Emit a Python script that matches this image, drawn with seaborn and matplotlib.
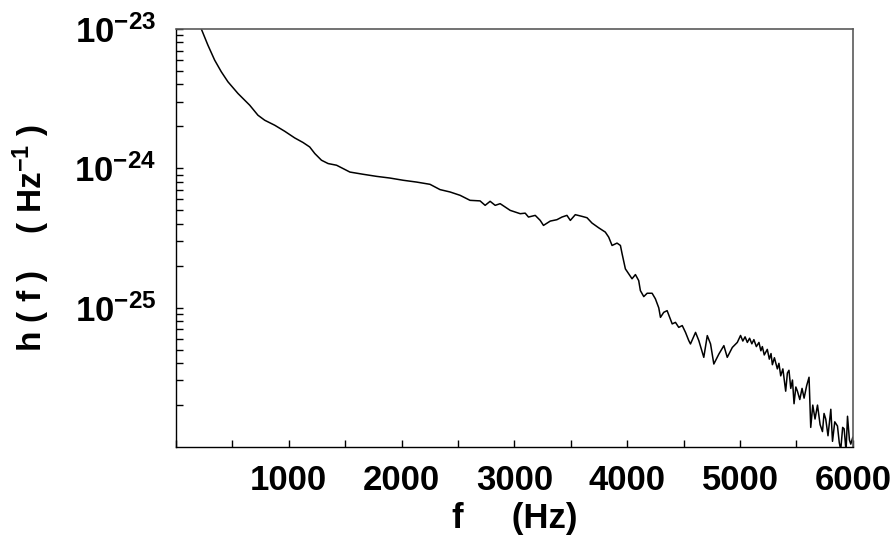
import matplotlib

matplotlib.use("Agg")

import matplotlib.pyplot as plt
import matplotlib.ticker as mticker
import numpy as np
import pandas as pd
import seaborn as sns

# frequency in Hz and log10 of h(f)
freq = [
    200, 283, 343, 402, 461, 550, 654, 727, 787, 876, 964, 1053, 1127, 1186,
    1231, 1290, 1349, 1424, 1542, 1660, 1779, 1897, 2015, 2134, 2252, 2341,
    2430, 2519, 2607, 2696, 2741, 2785, 2830, 2874, 2963, 3052, 3096, 3125,
    3185, 3229, 3258, 3318, 3377, 3422, 3466, 3496, 3540, 3599, 3644, 3688,
    3747, 3806, 3836, 3866, 3910, 3940, 3955, 3984, 4013, 4043, 4073, 4102,
    4117, 4147, 4177, 4221, 4250, 4280, 4295, 4324, 4354, 4399, 4428, 4457,
    4488, 4517, 4546, 4561, 4606, 4635, 4679, 4710, 4739, 4768, 4813, 4857,
    4887, 4932, 4976,
    5005, 5025, 5045, 5065, 5085, 5105, 5123, 5145, 5168, 5185, 5198, 5215,
    5242, 5260, 5275, 5287, 5305, 5331, 5345, 5361, 5380, 5405, 5420, 5434,
    5450, 5465, 5479, 5495, 5509, 5530, 5550, 5568, 5591, 5612, 5627, 5645,
    5665, 5687, 5710, 5731, 5745, 5760, 5780, 5805, 5820, 5840, 5864, 5880,
    5893, 5910, 5923, 5940, 5953, 5970, 5982, 6000,
]
log_h = [
    -22.95, -23.115, -23.223, -23.307, -23.379, -23.463, -23.547, -23.619,
    -23.655, -23.691, -23.734, -23.782, -23.815, -23.847, -23.894, -23.942,
    -23.966, -23.978, -24.027, -24.043, -24.058, -24.070, -24.086, -24.099,
    -24.115, -24.153, -24.170, -24.194, -24.230, -24.234, -24.266, -24.237,
    -24.266, -24.254, -24.302, -24.326, -24.322, -24.350, -24.338, -24.374,
    -24.410, -24.379, -24.369, -24.350, -24.338, -24.374, -24.333, -24.345,
    -24.355, -24.393, -24.427, -24.458, -24.494, -24.554, -24.537, -24.554,
    -24.614, -24.722, -24.757, -24.793, -24.763, -24.806, -24.878, -24.921,
    -24.897, -24.897, -24.937, -25.002, -25.070, -25.034, -25.022, -25.117,
    -25.106, -25.142, -25.129, -25.178, -25.237, -25.261, -25.178, -25.237,
    -25.357, -25.201, -25.261, -25.405, -25.333, -25.273, -25.357, -25.286,
    -25.250,
    -25.20, -25.24, -25.21, -25.25, -25.22, -25.26, -25.23, -25.28, -25.25,
    -25.31, -25.28, -25.34, -25.30, -25.37, -25.33, -25.41, -25.36, -25.44,
    -25.40, -25.49, -25.44, -25.60, -25.47, -25.45, -25.58, -25.52, -25.69,
    -25.57, -25.60, -25.66, -25.58, -25.65, -25.56, -25.50, -25.86, -25.70,
    -25.80, -25.70, -25.84, -25.89, -25.76, -25.80, -25.92, -25.73, -25.96,
    -25.82, -25.85, -25.97, -26.02, -25.86, -25.87, -26.03, -25.78, -25.95,
    -25.98, -25.93,
]

x_ticks = [1000, 2000, 3000, 4000, 5000, 6000]
y_ticks = [1e-25, 1e-24, 1e-23]
y_tick_labels = [r"$10^{-25}$", r"$10^{-24}$", r"$10^{-23}$"]

df = pd.DataFrame({"f": freq, "h": np.power(10.0, log_h)})

sns.set_theme(style="white")
plt.rcParams["font.family"] = ["Liberation Sans", "DejaVu Sans"]
plt.rcParams["font.weight"] = "bold"
plt.rcParams["mathtext.fontset"] = "custom"
plt.rcParams["mathtext.rm"] = "Liberation Sans:bold"
plt.rcParams["mathtext.bf"] = "Liberation Sans:bold"
plt.rcParams["mathtext.it"] = "Liberation Sans:bold"
plt.rcParams["text.color"] = "black"
plt.rcParams["axes.labelcolor"] = "black"
plt.rcParams["xtick.color"] = "black"
plt.rcParams["ytick.color"] = "black"

fig = plt.figure(figsize=(8.93, 5.47), dpi=100)
ax = fig.add_axes([0.197, 0.183, 0.758, 0.764])

sns.lineplot(data=df, x="f", y="h", ax=ax, color="black", linewidth=1.1,
             estimator=None, sort=False)

ax.set_yscale("log")
ax.set_xlim(0, 6000)
ax.set_ylim(1e-26, 1e-23)

ax.set_xticks(x_ticks)
ax.set_xticklabels([str(t) for t in x_ticks])
ax.xaxis.set_minor_locator(mticker.MultipleLocator(500))
ax.set_yticks(y_ticks)
ax.set_yticklabels(y_tick_labels)
ax.yaxis.set_minor_locator(mticker.LogLocator(base=10, subs=np.arange(2, 10)))
ax.yaxis.set_minor_formatter(mticker.NullFormatter())

ax.tick_params(axis="both", which="both", direction="in", length=5, width=1,
               color="black", labelcolor="black", labelsize=25,
               bottom=True, left=True, top=False, right=False)
ax.tick_params(axis="y", which="both", pad=14)
ax.tick_params(axis="x", which="both", pad=12)
for lab in ax.get_xticklabels() + ax.get_yticklabels():
    lab.set_fontweight("bold")

ax.set_xlabel(r"f     (Hz)", fontsize=25, fontweight="bold", labelpad=4,
              color="black")
ax.set_ylabel(r"h ( f )    ( Hz$^{-1}$ )", fontsize=24, fontweight="bold",
              labelpad=16, color="black")

for side in ["left", "bottom"]:
    ax.spines[side].set_color("black")
    ax.spines[side].set_linewidth(1.0)
for side in ["top", "right"]:
    ax.spines[side].set_color("#5a5a5a")
    ax.spines[side].set_linewidth(1.2)

fig.savefig("out.png", dpi=100)
plt.close(fig)
